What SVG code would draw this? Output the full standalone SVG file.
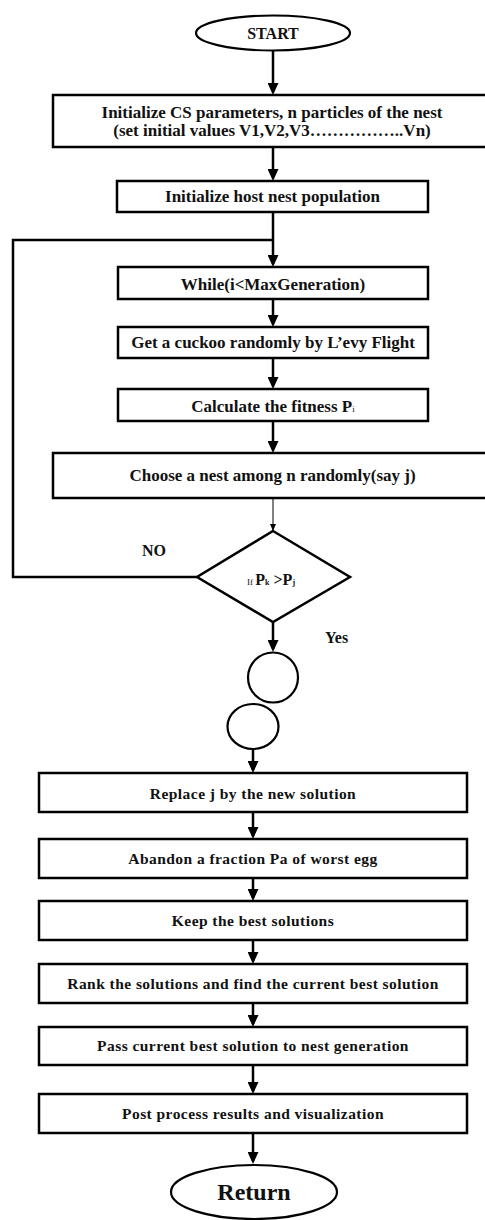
<svg xmlns="http://www.w3.org/2000/svg" width="485" height="1220" viewBox="0 0 485 1220">
<defs>
<style>
.box{fill:#fff;stroke:#000;stroke-width:2.5}
.term{fill:#fff;stroke:#000;stroke-width:2.2}
.t{font-family:"Liberation Serif","Times New Roman",serif;font-weight:bold;fill:#111;text-anchor:middle}
.t17{font-size:17px}
.tb{font-size:15.5px;letter-spacing:0.45px}
.lbl{font-family:"Liberation Serif","Times New Roman",serif;font-weight:bold;fill:#111;font-size:16px}
.c{fill:none;stroke:#000;stroke-width:2.5}
.thin{fill:none;stroke:#000;stroke-width:1}
</style>
<marker id="ah" viewBox="0 0 12 11" refX="9" refY="5.5" markerWidth="12" markerHeight="11" orient="auto" markerUnits="userSpaceOnUse"><path d="M0,0 L12,5.5 L0,11 z" fill="#000"/></marker>
<marker id="ahs" viewBox="0 0 7 6" refX="6" refY="3" markerWidth="7" markerHeight="6" orient="auto" markerUnits="userSpaceOnUse"><path d="M0,0 L7,3 L0,6 z" fill="#000"/></marker>
</defs>
<rect width="485" height="1220" fill="#fff"/>
<g id="connectors">
<line class="c" x1="273" y1="50.5" x2="273" y2="92" marker-end="url(#ah)"/>
<line class="c" x1="273" y1="147" x2="273" y2="178" marker-end="url(#ah)"/>
<line class="c" x1="273" y1="212" x2="273" y2="264" marker-end="url(#ah)"/>
<polyline class="c" points="273,240 13,240 13,577 197,577"/>
<line class="c" x1="273" y1="299" x2="273" y2="324" marker-end="url(#ah)"/>
<line class="c" x1="273" y1="358" x2="273" y2="386" marker-end="url(#ah)"/>
<line class="c" x1="273" y1="421" x2="273" y2="450" marker-end="url(#ah)"/>
<line class="thin" x1="273" y1="498" x2="273" y2="530" marker-end="url(#ahs)"/>
<line class="c" x1="273" y1="622" x2="273" y2="649" marker-end="url(#ah)"/>
<line class="c" x1="253" y1="749" x2="253" y2="770" marker-end="url(#ah)"/>
<line class="c" x1="253" y1="812" x2="253" y2="836" marker-end="url(#ah)"/>
<line class="c" x1="253" y1="878" x2="253" y2="898" marker-end="url(#ah)"/>
<line class="c" x1="253" y1="940" x2="253" y2="961" marker-end="url(#ah)"/>
<line class="c" x1="253" y1="1003" x2="253" y2="1024" marker-end="url(#ah)"/>
<line class="c" x1="253" y1="1065" x2="253" y2="1091" marker-end="url(#ah)"/>
<line class="c" x1="253" y1="1133" x2="253" y2="1161" marker-end="url(#ah)"/>
<text class="lbl" x="142" y="556">NO</text>
<text class="lbl" x="325" y="643">Yes</text>
</g>
<g id="start">
<ellipse class="term" cx="273" cy="33" rx="77" ry="17.5"/>
<text class="t" x="273" y="38.5" font-size="16">START</text>
</g>
<g id="init-params">
<rect class="box" x="53" y="95" width="436" height="52"/>
<text class="t t17" x="272" y="117.5">Initialize CS parameters, n particles of the nest</text>
<text class="t t17" x="272" y="136">(set initial values V1,V2,V3……………..Vn)</text>
</g>
<g id="init-host">
<rect class="box" x="117" y="181" width="311" height="31"/>
<text class="t t17" x="272.5" y="202">Initialize host nest population</text>
</g>
<g id="while">
<rect class="box" x="118" y="267" width="310" height="32"/>
<text class="t t17" x="273" y="289.5">While(i&lt;MaxGeneration)</text>
</g>
<g id="get-cuckoo">
<rect class="box" x="118" y="327" width="310" height="31"/>
<text class="t t17" x="273" y="348">Get a cuckoo randomly by L’evy Flight</text>
</g>
<g id="fitness">
<rect class="box" x="118" y="389" width="310" height="32"/>
<text class="t t17" x="273" y="411.5">Calculate the fitness P<tspan font-size="9" font-weight="normal">i</tspan></text>
</g>
<g id="choose-nest">
<rect class="box" x="53" y="453" width="436" height="45"/>
<text class="t t17" x="272.5" y="481">Choose a nest among n randomly(say j)</text>
</g>
<g id="decision">
<polygon class="c" points="273,531 350,577 273,622 197,577" style="fill:#fff"/>
<text class="lbl" x="247" y="585" font-size="15"><tspan font-size="9" font-weight="normal">If </tspan>P<tspan font-size="8">k</tspan> &gt;P<tspan font-size="8">j</tspan></text>
</g>
<g id="connector-a">
<circle class="term" cx="273" cy="677.5" r="25"/>
</g>
<g id="connector-b">
<ellipse class="term" cx="253" cy="726.5" rx="25.5" ry="22.5"/>
</g>
<g id="replace">
<rect class="box" x="39" y="773" width="428" height="39"/>
<text class="t tb" x="253" y="798.5">Replace j by the new solution</text>
</g>
<g id="abandon">
<rect class="box" x="39" y="839" width="428" height="39"/>
<text class="t tb" x="253" y="863.5">Abandon a fraction Pa of worst egg</text>
</g>
<g id="keep-best">
<rect class="box" x="39" y="901" width="428" height="39"/>
<text class="t tb" x="253" y="926">Keep the best solutions</text>
</g>
<g id="rank">
<rect class="box" x="39" y="964" width="428" height="39"/>
<text class="t tb" x="253" y="988.5">Rank the solutions and find the current best solution</text>
</g>
<g id="pass">
<rect class="box" x="39" y="1027" width="428" height="38"/>
<text class="t tb" x="253" y="1051">Pass current best solution to nest generation</text>
</g>
<g id="post">
<rect class="box" x="39" y="1094" width="428" height="39"/>
<text class="t tb" x="253" y="1118.5">Post process results and visualization</text>
</g>
<g id="return">
<ellipse class="term" cx="254" cy="1192" rx="83" ry="27"/>
<text class="t" x="254" y="1200" font-size="24">Return</text>
</g>
</svg>
